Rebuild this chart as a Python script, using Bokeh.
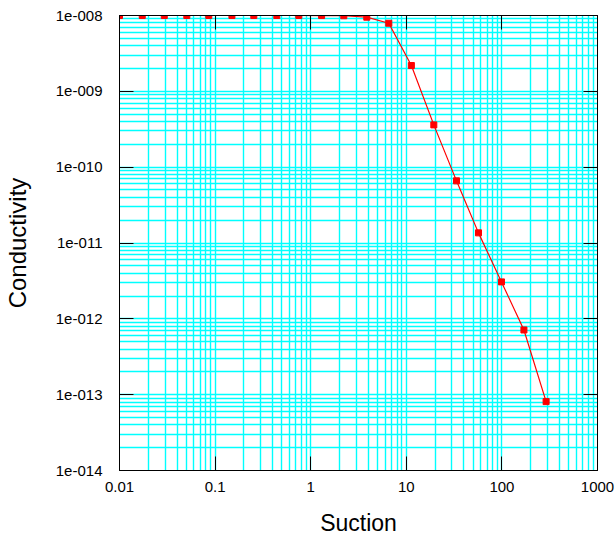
from bokeh.plotting import figure
from bokeh.models import (FixedTicker, LogAxis, Range1d, ColumnDataSource,
                          CustomJSTickFormatter, Grid)
from bokeh.embed import file_html
from bokeh.resources import INLINE

# Hydraulic conductivity function: suction vs conductivity
suction = [0.01, 0.0173, 0.0294, 0.0506, 0.0859, 0.150, 0.254, 0.442, 0.751,
           1.30, 2.22, 3.86, 6.56, 11.3, 19.4, 33.5, 56.9, 99.0, 170.0, 290.0]
conductivity = [1.0e-8, 1.0e-8, 1.0e-8, 1.0e-8, 1.0e-8, 1.0e-8, 1.0e-8, 1.0e-8,
                1.0e-8, 9.99e-9, 9.93e-9, 9.5e-9, 7.9e-9, 2.19e-9, 3.61e-10,
                6.6e-11, 1.36e-11, 3.07e-12, 7.13e-13, 8.1e-14]

x_ticks = [0.01, 0.1, 1, 10, 100, 1000]
x_tick_labels = ["0.01", "0.1", "1", "10", "100", "1000"]
y_ticks = [1e-14, 1e-13, 1e-12, 1e-11, 1e-10, 1e-9, 1e-8]
y_tick_labels = ["1e-014", "1e-013", "1e-012", "1e-011", "1e-010", "1e-009", "1e-008"]

def minor_between(majors):
    out = []
    for m in majors[:-1]:
        for k in range(2, 10):
            out.append(m * k)
    return out

FONT = "Liberation Sans"
GRID = "#00FFFF"

def label_formatter(majors, labels):
    # pick the label of the nearest decade
    return CustomJSTickFormatter(args=dict(vals=majors, labels=labels), code="""
        let best = 0, bd = Infinity;
        for (let i = 0; i < vals.length; i++) {
            const d = Math.abs(Math.log10(tick) - Math.log10(vals[i]));
            if (d < bd) { bd = d; best = i; }
        }
        return labels[best];
    """)

p = figure(width=615, height=540, x_axis_type="log", y_axis_type="log",
           x_range=Range1d(0.01, 1000), y_range=Range1d(1e-14, 1e-8),
           output_backend="svg", toolbar_location=None,
           min_border_left=119, min_border_right=18,
           min_border_top=15, min_border_bottom=70)

p.outline_line_color = "black"
p.outline_line_width = 1

# cyan lines at every decade and at every 2..9 step inside each decade
p.xgrid.visible = False
p.ygrid.visible = False
for dim, majors in ((0, x_ticks), (1, y_ticks)):
    for vals in (majors, minor_between(majors)):
        p.add_layout(Grid(dimension=dim, ticker=FixedTicker(ticks=vals),
                          grid_line_color=GRID, grid_line_width=1.4,
                          grid_line_alpha=1.0))

def style_axis(ax, majors, labels, show_labels=True):
    ax.ticker = FixedTicker(ticks=majors)
    ax.formatter = label_formatter(majors, labels)
    ax.axis_line_color = "black"
    ax.major_tick_line_color = "black"
    ax.major_tick_in = 14
    ax.major_tick_out = 0
    ax.minor_tick_line_color = None
    ax.major_label_text_font = FONT
    ax.major_label_text_font_size = "15px"
    ax.axis_label_text_font = FONT
    ax.axis_label_text_font_style = "normal"
    ax.axis_label_text_color = "black"
    ax.major_label_text_color = "black" if show_labels else None

xa = p.xaxis[0]
style_axis(xa, x_ticks, x_tick_labels)
xa.axis_label = "Suction"
xa.axis_label_text_font_size = "23px"
xa.major_label_standoff = 11
xa.axis_label_standoff = 15

ya = p.yaxis[0]
style_axis(ya, y_ticks, y_tick_labels)
ya.axis_label = "Conductivity"
ya.axis_label_text_font_size = "24px"
ya.major_label_standoff = 17
ya.axis_label_standoff = 22

top = LogAxis()
style_axis(top, x_ticks, x_tick_labels, show_labels=False)
p.add_layout(top, "above")

right = LogAxis()
style_axis(right, y_ticks, y_tick_labels, show_labels=False)
p.add_layout(right, "right")

src = ColumnDataSource(data=dict(x=suction, y=conductivity))
p.line("x", "y", source=src, line_color="red", line_width=1.2)
p.scatter("x", "y", source=src, marker="square", size=6,
          fill_color="red", line_color="red")

open("out.html", "w").write(file_html(p, INLINE))
